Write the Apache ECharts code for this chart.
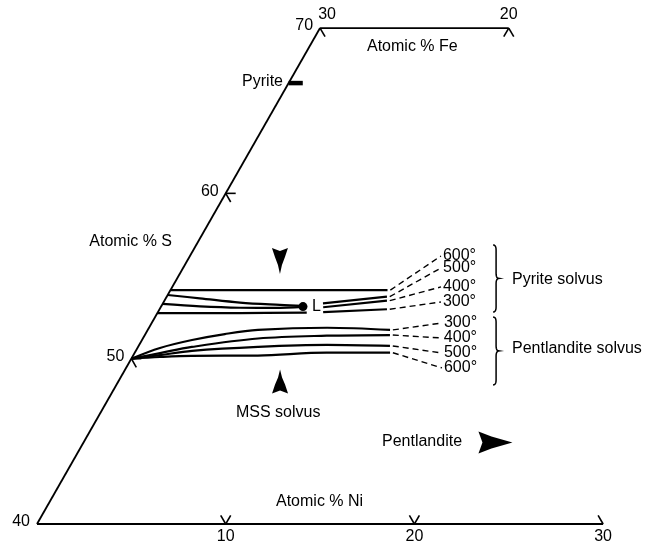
<!DOCTYPE html>
<html><head><meta charset="utf-8">
<script src="https://cdn.jsdelivr.net/npm/echarts@6/dist/echarts.min.js"></script>
<style>html,body{margin:0;padding:0;background:#fff}#c{width:649px;height:542px}</style>
</head><body><div id="c"></div>
<script>
// ---------- DATA (ternary: [atomic % Ni, atomic % S]) ----------
const sTicks = [40, 50, 60, 70];
const niTicks = [10, 20, 30];
const feTicks = [30, 20];

const frameLeft = [[0, 40], [0, 70]];
const frameTop = [[0, 70], [10, 70]];
const frameBottom = [[0, 40], [30, 40]];

const pyriteBar = [[0, 66.67], [0.75, 66.67]];

// Pyrite solvus isotherms (null = break around the "L" label)
const pySolvus600 = [[0, 54.15], [11.5, 54.15]];
const pySolvus500 = [[0, 53.85], [1.8, 53.65], [4.06, 53.39], [6.25, 53.25], [7.5, 53.19], null, [8.48, 53.35], [11.67, 53.75]];
const pySolvus400 = [[0, 53.31], [2.06, 53.16], [4.22, 53.08], [6.08, 53.07], [7.53, 53.13], null, [8.61, 53.11], [11.79, 53.51]];
const pySolvus300 = [[0, 52.76], [2.26, 52.76], [4.38, 52.76], [7.9, 52.79], null, [8.76, 52.81], [12.05, 52.99]];
const pyLeaderEnds = [[13.30, 56.21], [13.67, 55.49], [14.24, 54.34], [14.69, 53.43]];
const pyTempLabels = ['600°', '500°', '400°', '300°'];

// Pentlandite solvus isotherms
const ptSolvus300 = [[0, 50], [1.19, 50.65], [2.65, 51.13], [4.21, 51.49], [5.84, 51.74], [9.44, 51.87], [12.84, 51.74]];
const ptSolvus400 = [[0, 50], [1.35, 50.34], [2.85, 50.71], [6.1, 51.22], [9.66, 51.39], [12.99, 51.43]];
const ptSolvus500 = [[0, 50], [1.41, 50.22], [2.98, 50.47], [6.35, 50.71], [9.95, 50.83], [13.32, 50.77]];
const ptSolvus600 = [[0, 50], [1.47, 50.10], [3.11, 50.17], [6.61, 50.19], [10.17, 50.36], [13.53, 50.36]];
const ptLeaderEnds = [[15.38, 52.16], [15.83, 51.25], [16.29, 50.34], [16.74, 49.44]];
const ptTempLabels = ['300°', '400°', '500°', '600°'];

const pointL = [7.52, 53.15];

const braces = [
  [[15.73, 56.88], [17.76, 52.82]],
  [[17.91, 52.52], [19.96, 48.41]]
];
const arrowMarks = [[4.92, 55.91, 'down'], [8.57, 48.62, 'up'], [21.83, 44.93, 'right']];

// ---------- helpers ----------
const SQ = Math.sqrt(3) / 2;
function toXY(p) { return p ? [p[0] + (p[1] - 40) / 2, (p[1] - 40) * SQ] : null; }
function splitSegments(arr) {
  const segs = []; let cur = [];
  arr.forEach(p => { if (p === null) { if (cur.length) segs.push(cur); cur = []; } else cur.push(toXY(p)); });
  if (cur.length) segs.push(cur);
  return segs;
}
const FAMILY = '"Liberation Sans", Arial, sans-serif';
const FONT = '16px ' + FAMILY;
const series = [];
function addLine(pts, opt) {
  series.push(Object.assign({
    type: 'line', data: pts, symbol: 'none', silent: true, clip: false,
    lineStyle: { color: '#000', width: 2 }, z: 3
  }, opt || {}));
}

// frame
[frameLeft, frameTop, frameBottom].forEach(f => addLine(f.map(toXY), { lineStyle: { color: '#000', width: 1.8 } }));
// pyrite bar
addLine(pyriteBar.map(toXY), { lineStyle: { color: '#000', width: 4.5 } });

// solvus curves
[pySolvus600, pySolvus500, pySolvus400, pySolvus300, ptSolvus300, ptSolvus400, ptSolvus500, ptSolvus600].forEach(c => {
  splitSegments(c).forEach(seg => addLine(seg, { smooth: 0.35, lineStyle: { color: '#000', width: 2.2 } }));
});

// dashed leaders
const pyEnds = [pySolvus600, pySolvus500, pySolvus400, pySolvus300].map(c => c[c.length - 1]);
const ptEnds = [ptSolvus300, ptSolvus400, ptSolvus500, ptSolvus600].map(c => c[c.length - 1]);
pyEnds.forEach((e, i) => addLine([toXY([e[0] + 0.15, e[1]]), toXY(pyLeaderEnds[i])], { lineStyle: { color: '#000', width: 1.4, type: [6, 4] } }));
ptEnds.forEach((e, i) => addLine([toXY([e[0] + 0.15, e[1]]), toXY(ptLeaderEnds[i])], { lineStyle: { color: '#000', width: 1.4, type: [6, 4] } }));

// text anchored on data points (temperature labels, "L")
const anchoredTexts = [];
pyLeaderEnds.forEach((p, i) => anchoredTexts.push({ p, t: pyTempLabels[i], dx: 2 }));
ptLeaderEnds.forEach((p, i) => anchoredTexts.push({ p, t: ptTempLabels[i], dx: 2 }));
anchoredTexts.push({ p: pointL, t: 'L', dx: 9 });
series.push({
  type: 'custom', silent: true, clip: false, z: 5,
  data: anchoredTexts.map(a => toXY(a.p)),
  renderItem: (params, api) => {
    const a = anchoredTexts[params.dataIndex];
    const c = api.coord([api.value(0), api.value(1)]);
    return { type: 'text', style: { text: a.t, x: c[0] + a.dx, y: c[1], align: 'left', verticalAlign: 'middle', font: FONT, fill: '#000' } };
  }
});

// point L
series.push({
  type: 'scatter', symbol: 'circle', symbolSize: 9, silent: true, data: [toXY(pointL)],
  itemStyle: { color: '#000', opacity: 1 }
});

// ticks
const tickItems = [];
sTicks.forEach(s => tickItems.push({ p: [0, s], kind: (s === 40 || s === 70) ? 'Snone' : 'S', text: String(s) }));
niTicks.forEach(n => tickItems.push({ p: [n, 40], kind: n === 30 ? 'NiEnd' : 'Ni', text: String(n) }));
feTicks.forEach(f => tickItems.push({ p: [30 - f, 70], kind: f === 30 ? 'FeCorner' : 'Fe', text: String(f) }));
const armDirs = {
  S: [[0.5, 0.866], [1, 0]], Snone: [],
  Ni: [[-0.5, -0.866], [0.5, -0.866]], NiEnd: [[-0.5, -0.866]],
  Fe: [[-0.5, 0.866], [0.5, 0.866]], FeCorner: [[0.5, 0.866]]
};
const labelOff = {
  S: [-7, -2, 'right'], Snone: [-7, -2, 'right'], Ni: [0, 13, 'center'], NiEnd: [0, 13, 'center'],
  Fe: [0, -13, 'center'], FeCorner: [7, -13, 'center']
};
series.push({
  type: 'custom', silent: true, clip: false, z: 4,
  data: tickItems.map(t => toXY(t.p)),
  renderItem: (params, api) => {
    const t = tickItems[params.dataIndex];
    const c = api.coord([api.value(0), api.value(1)]);
    const L = 10;
    const children = armDirs[t.kind].map(d => ({
      type: 'line', shape: { x1: c[0], y1: c[1], x2: c[0] + d[0] * L, y2: c[1] + d[1] * L },
      style: { stroke: '#000', lineWidth: 1.6 }
    }));
    const o = labelOff[t.kind];
    children.push({ type: 'text', style: { text: t.text, x: c[0] + o[0], y: c[1] + o[1], align: o[2], verticalAlign: 'middle', font: FONT, fill: '#000' } });
    return { type: 'group', children };
  }
});

// arrowheads
const arrowShapes = {
  down: [[-8, -13], [0, -10], [8, -13], [5, -4], [2, 4], [0, 13], [-2, 4], [-5, -4]],
  up: [[-8, 12], [0, 9], [8, 12], [5, 3], [2, -4], [0, -12], [-2, -4], [-5, 3]],
  right: [[-17, -11], [-4, -6], [17, 0], [-4, 6], [-17, 11], [-13, 0]]
};
series.push({
  type: 'custom', silent: true, clip: false, z: 4,
  data: arrowMarks.map(a => toXY(a)),
  renderItem: (params, api) => {
    const c = api.coord([api.value(0), api.value(1)]);
    const shp = arrowShapes[arrowMarks[params.dataIndex][2]];
    return { type: 'polygon', shape: { points: shp.map(q => [c[0] + q[0], c[1] + q[1]]) }, style: { fill: '#000' } };
  }
});

// braces
function quad(p0, c, p1, n, out) {
  for (let i = 1; i <= n; i++) { const t = i / n;
    out.push([(1 - t) * (1 - t) * p0[0] + 2 * (1 - t) * t * c[0] + t * t * p1[0], (1 - t) * (1 - t) * p0[1] + 2 * (1 - t) * t * c[1] + t * t * p1[1]]); }
}
series.push({
  type: 'custom', silent: true, clip: false, z: 4,
  data: braces.map(b => toXY(b[0])),
  renderItem: (params, api) => {
    const b = braces[params.dataIndex];
    const p1 = api.coord(toXY(b[0])), p2 = api.coord(toXY(b[1]));
    const x0 = p1[0], y0 = p1[1], y1 = p2[1], ym = (y0 + y1) / 2, w = 3, c = 5;
    const pts = [[x0, y0]];
    quad([x0, y0], [x0 + w, y0], [x0 + w, y0 + c], 6, pts);
    pts.push([x0 + w, ym - c]);
    quad([x0 + w, ym - c], [x0 + w, ym], [x0 + 2 * w, ym], 6, pts);
    quad([x0 + 2 * w, ym], [x0 + w, ym], [x0 + w, ym + c], 6, pts);
    pts.push([x0 + w, y1 - c]);
    quad([x0 + w, y1 - c], [x0 + w, y1], [x0, y1], 6, pts);
    return { type: 'polyline', shape: { points: pts }, style: { stroke: '#000', lineWidth: 1.5, fill: null } };
  }
});

// ---------- chart ----------
const PX_X = 18.87, PX_Y = 19.09, X_MAX = 32, Y_MAX = 27;
const text = (t, x, y, align) => ({ type: 'text', silent: true, style: { text: t, x, y, align: align || 'left', verticalAlign: 'middle', font: FONT, fill: '#000' } });
const chart = echarts.init(document.getElementById('c'), null, { renderer: 'canvas' });
chart.setOption({
  animation: false,
  backgroundColor: '#fff',
  grid: { left: 37, top: 524 - Y_MAX * PX_Y, width: X_MAX * PX_X, height: Y_MAX * PX_Y },
  xAxis: { type: 'value', min: 0, max: X_MAX, show: false },
  yAxis: { type: 'value', min: 0, max: Y_MAX, show: false },
  series,
  graphic: [
    text('Atomic % Fe', 367, 47),
    text('Pyrite', 283, 82, 'right'),
    text('Atomic % S', 172, 242, 'right'),
    text('Atomic % Ni', 276, 502),
    text('MSS solvus', 236, 413),
    text('Pentlandite', 382, 442),
    text('Pyrite solvus', 512, 280),
    text('Pentlandite solvus', 512, 349)
  ]
});
</script></body></html>
